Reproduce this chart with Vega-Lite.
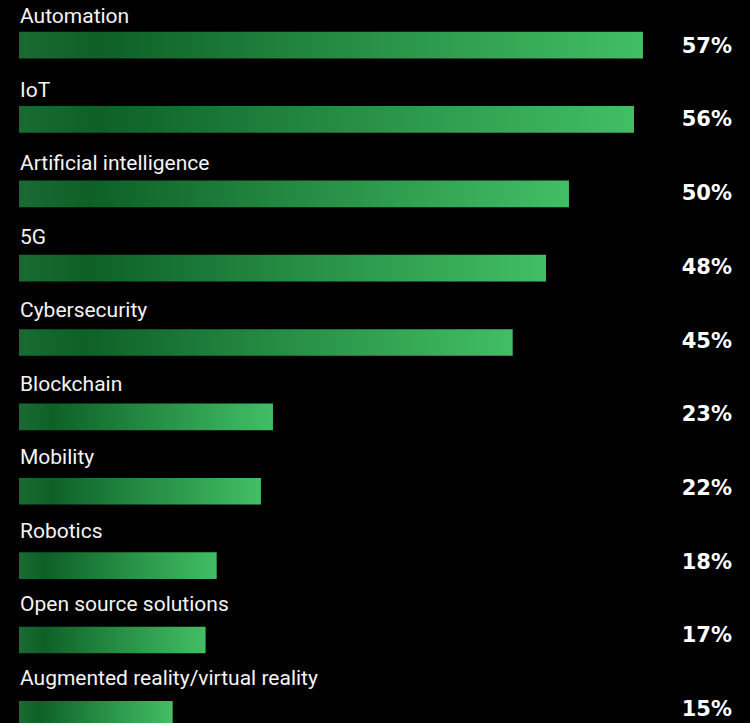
{
  "$schema": "https://vega.github.io/schema/vega-lite/v6.json",
  "width": 731,
  "height": 723,
  "autosize": {"type": "none"},
  "padding": {"left": 19, "top": 0, "right": 0, "bottom": 0},
  "background": "#000000",
  "config": {"view": {"stroke": null}},
  "data": {
    "values": [
      {"topic": "Automation", "value": 57.0, "label": "57%"},
      {"topic": "IoT", "value": 56.18, "label": "56%"},
      {"topic": "Artificial intelligence", "value": 50.24, "label": "50%"},
      {"topic": "5G", "value": 48.14, "label": "48%"},
      {"topic": "Cybersecurity", "value": 45.1, "label": "45%"},
      {"topic": "Blockchain", "value": 23.2, "label": "23%"},
      {"topic": "Mobility", "value": 22.1, "label": "22%"},
      {"topic": "Robotics", "value": 18.06, "label": "18%"},
      {"topic": "Open source solutions", "value": 17.05, "label": "17%"},
      {"topic": "Augmented reality/virtual reality", "value": 14.04, "label": "15%"}
    ]
  },
  "resolve": {"scale": {"y": "independent"}},
  "layer": [
    {
      "mark": {
        "type": "bar",
        "cornerRadius": 0,
        "fill": {
          "gradient": "linear",
          "x1": 0, "y1": 0, "x2": 1, "y2": 0,
          "stops": [
            {"offset": 0, "color": "#1a6b33"},
            {"offset": 0.13, "color": "#0e6027"},
            {"offset": 0.5, "color": "#248a42"},
            {"offset": 1, "color": "#42be65"}
          ]
        }
      },
      "encoding": {
        "y": {
          "field": "topic",
          "type": "nominal",
          "sort": null,
          "axis": null,
          "scale": {"range": [31.7, 727.7], "paddingInner": 0.641, "paddingOuter": 0}
        },
        "x": {
          "field": "value",
          "type": "quantitative",
          "axis": null,
          "scale": {"domain": [0, 66.78], "nice": false, "zero": true}
        }
      }
    },
    {
      "mark": {
        "type": "text",
        "align": "left",
        "baseline": "alphabetic",
        "dx": 1,
        "font": "Roboto",
        "fontSize": 21,
        "color": "#f4f4f4"
      },
      "encoding": {
        "y": {
          "field": "topic",
          "type": "nominal",
          "sort": null,
          "axis": null,
          "scale": {"type": "point", "range": [23.3, 685], "padding": 0}
        },
        "x": {"value": 0},
        "text": {"field": "topic"}
      }
    },
    {
      "mark": {
        "type": "text",
        "align": "right",
        "baseline": "alphabetic",
        "dx": -18,
        "font": "DejaVu Sans",
        "fontSize": 21,
        "fontWeight": "bold",
        "color": "#ffffff"
      },
      "encoding": {
        "y": {
          "field": "topic",
          "type": "nominal",
          "sort": null,
          "axis": null,
          "scale": {"type": "point", "range": [52.7, 716], "padding": 0}
        },
        "x": {"value": "width"},
        "text": {"field": "label"}
      }
    }
  ]
}
